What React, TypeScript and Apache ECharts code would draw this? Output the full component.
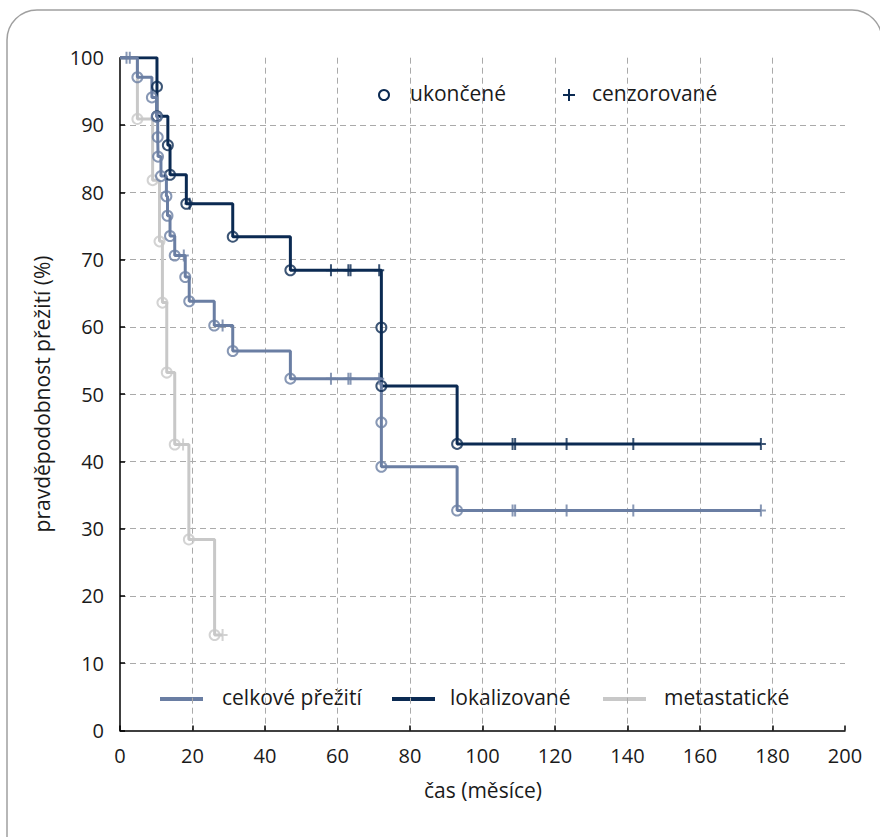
import React, { useEffect, useRef } from "react";
import * as echarts from "echarts";

// ---- data ----
const xTicks = [0, 20, 40, 60, 80, 100, 120, 140, 160, 180, 200];
const yTicks = [0, 10, 20, 30, 40, 50, 60, 70, 80, 90, 100];

const groupNames = ["celkové přežití", "lokalizované", "metastatické"];
const markerNames = ["ukončené", "cenzorované"];

// celkové přežití
const celkoveStepT = [0, 4.8, 8.8, 10.1, 10.4, 10.5, 11.3, 12.8, 13.1, 13.8, 15.1, 18.0, 19.1, 26.0, 31.1, 47.0, 72.1, 72.1, 93.0, 176.8];
const celkoveStepV = [100, 97.1, 94.1, 91.2, 88.2, 85.3, 82.4, 79.4, 76.5, 73.5, 70.6, 67.4, 63.8, 60.2, 56.4, 52.3, 45.8, 39.2, 32.7, 32.7];
const celkoveCensT = [1.8, 2.7, 17.6, 28.3, 58.2, 63.0, 63.6, 71.5, 108.3, 109.0, 123.2, 141.6, 176.8];
const celkoveCensV = [100, 100, 70.6, 60.2, 52.3, 52.3, 52.3, 52.3, 32.7, 32.7, 32.7, 32.7, 32.7];

// lokalizované
const lokalStepT = [0, 10.2, 10.2, 13.2, 13.8, 18.3, 31.1, 47.0, 72.1, 72.1, 93.0, 176.8];
const lokalStepV = [100, 95.7, 91.3, 87.0, 82.6, 78.3, 73.4, 68.4, 59.9, 51.2, 42.6, 42.6];
const lokalCensT = [19.2, 58.2, 63.0, 63.6, 71.5, 108.3, 109.0, 123.2, 141.6, 176.8];
const lokalCensV = [78.3, 68.4, 68.4, 68.4, 68.4, 42.6, 42.6, 42.6, 42.6, 42.6];

// metastatické
const metaStepT = [0, 4.8, 9.0, 10.9, 11.7, 12.9, 15.1, 19.0, 26.1, 28.3];
const metaStepV = [100, 90.9, 81.8, 72.7, 63.6, 53.2, 42.5, 28.4, 14.2, 14.2];
const metaCensT = [17.4, 28.3];
const metaCensV = [42.5, 14.2];

const colCelkove = "#6a7ea3";
const colLokal = "#0b2a52";
const colMeta = "#c8c8c8";
const textCol = "#1a1a1a";
const FONT = "'Open Sans', sans-serif";

const zip = (t: number[], v: number[]) => t.map((x, i) => [x, v[i]]);
const events = (t: number[], v: number[]) => zip(t, v).slice(1, -1);

const censorSymbol = "path://M4,0h2v12h-2zM0,5h10v2h-10z";

export default function App() {
  const ref = useRef<HTMLDivElement>(null);
  useEffect(() => {
    if (!ref.current) return;
    const chart = echarts.init(ref.current, undefined, { renderer: "svg" });

    const lineSeries = (name: string, t: number[], v: number[], color: string) => ({
      name,
      type: "line",
      step: "end",
      data: zip(t, v),
      showSymbol: false,
      symbol: "none",
      lineStyle: { color, width: 3 },
      z: 2,
    });
    const eventSeries = (t: number[], v: number[], color: string) => ({
      type: "scatter",
      data: events(t, v),
      symbol: "circle",
      symbolSize: 10,
      itemStyle: { color: "rgba(0,0,0,0)", borderColor: color, borderWidth: 2 },
      z: 3,
    });
    const censorSeries = (t: number[], v: number[], color: string) => ({
      type: "scatter",
      data: zip(t, v),
      symbol: censorSymbol,
      symbolSize: [10, 12],
      itemStyle: { color },
      z: 3,
    });

    const legendY = 699;
    const legendItems = [
      { x1: 160, x2: 203, tx: 222, color: colCelkove, label: groupNames[0] },
      { x1: 392, x2: 435, tx: 450, color: colLokal, label: groupNames[1] },
      { x1: 603, x2: 646, tx: 664, color: colMeta, label: groupNames[2] },
    ];

    const graphic: any[] = [
      {
        type: "rect",
        shape: { x: 7, y: 10, width: 875, height: 900, r: 30 },
        style: { fill: "none", stroke: "#a0a0a0", lineWidth: 1.5 },
        z: -10,
        silent: true,
      },
      {
        type: "text",
        x: 42,
        y: 394,
        rotation: Math.PI / 2,
        style: {
          text: "pravděpodobnost přežití (%)",
          font: `21px ${FONT}`,
          fill: textCol,
          align: "center",
          verticalAlign: "middle",
        },
      },
      {
        type: "text",
        x: 483,
        y: 790,
        style: {
          text: "čas (měsíce)",
          font: `21px ${FONT}`,
          fill: textCol,
          align: "center",
          verticalAlign: "middle",
        },
      },
      // top legend
      {
        type: "circle",
        shape: { cx: 384, cy: 95, r: 5 },
        style: { fill: "none", stroke: colLokal, lineWidth: 2 },
      },
      {
        type: "text",
        x: 410,
        y: 93,
        style: { text: markerNames[0], font: `21px ${FONT}`, fill: textCol, verticalAlign: "middle" },
      },
      {
        type: "line",
        shape: { x1: 569, y1: 89, x2: 569, y2: 101 },
        style: { stroke: colLokal, lineWidth: 2 },
      },
      {
        type: "line",
        shape: { x1: 563, y1: 95, x2: 575, y2: 95 },
        style: { stroke: colLokal, lineWidth: 2 },
      },
      {
        type: "text",
        x: 592,
        y: 93,
        style: { text: markerNames[1], font: `21px ${FONT}`, fill: textCol, verticalAlign: "middle" },
      },
    ];
    legendItems.forEach((it) => {
      graphic.push({
        type: "line",
        shape: { x1: it.x1, y1: legendY, x2: it.x2, y2: legendY },
        style: { stroke: it.color, lineWidth: 4 },
      });
      graphic.push({
        type: "text",
        x: it.tx,
        y: legendY - 2,
        style: { text: it.label, font: `21px ${FONT}`, fill: textCol, verticalAlign: "middle" },
      });
    });

    chart.setOption({
      animation: false,
      backgroundColor: "#ffffff",
      textStyle: { fontFamily: FONT },
      grid: { left: 120, right: 35, top: 57.7, bottom: 106.5, containLabel: false },
      xAxis: {
        type: "value",
        min: xTicks[0],
        max: xTicks[xTicks.length - 1],
        interval: 20,
        axisLine: { show: true, onZero: false, lineStyle: { color: "#000", width: 1.5 } },
        axisTick: { show: true, inside: true, length: 5, lineStyle: { color: "#000", width: 1.5 } },
        axisLabel: { color: textCol, fontSize: 20, fontFamily: FONT, margin: 15 },
        splitLine: {
          show: true,
          showMinLine: false,
          showMaxLine: false,
          lineStyle: { color: "#aaaaaa", width: 1, type: [6, 4] },
        },
      },
      yAxis: {
        type: "value",
        min: yTicks[0],
        max: yTicks[yTicks.length - 1],
        interval: 10,
        axisLine: { show: true, onZero: false, lineStyle: { color: "#000", width: 1.5 } },
        axisTick: { show: true, inside: true, length: 5, lineStyle: { color: "#000", width: 1.5 } },
        axisLabel: { color: textCol, fontSize: 20, fontFamily: FONT, margin: 16 },
        splitLine: {
          show: true,
          showMinLine: false,
          showMaxLine: false,
          lineStyle: { color: "#aaaaaa", width: 1, type: [6, 4] },
        },
      },
      series: [
        lineSeries(groupNames[2], metaStepT, metaStepV, colMeta),
        lineSeries(groupNames[1], lokalStepT, lokalStepV, colLokal),
        lineSeries(groupNames[0], celkoveStepT, celkoveStepV, colCelkove),
        eventSeries(metaStepT, metaStepV, colMeta),
        censorSeries(metaCensT, metaCensV, colMeta),
        eventSeries(lokalStepT, lokalStepV, colLokal),
        censorSeries(lokalCensT, lokalCensV, colLokal),
        eventSeries(celkoveStepT, celkoveStepV, colCelkove),
        censorSeries(celkoveCensT, celkoveCensV, colCelkove),
      ],
      graphic,
    });
    return () => chart.dispose();
  }, []);

  return (
    <div
      ref={ref}
      style={{ position: "absolute", left: 0, top: 0, width: 880, height: 837 }}
    />
  );
}
